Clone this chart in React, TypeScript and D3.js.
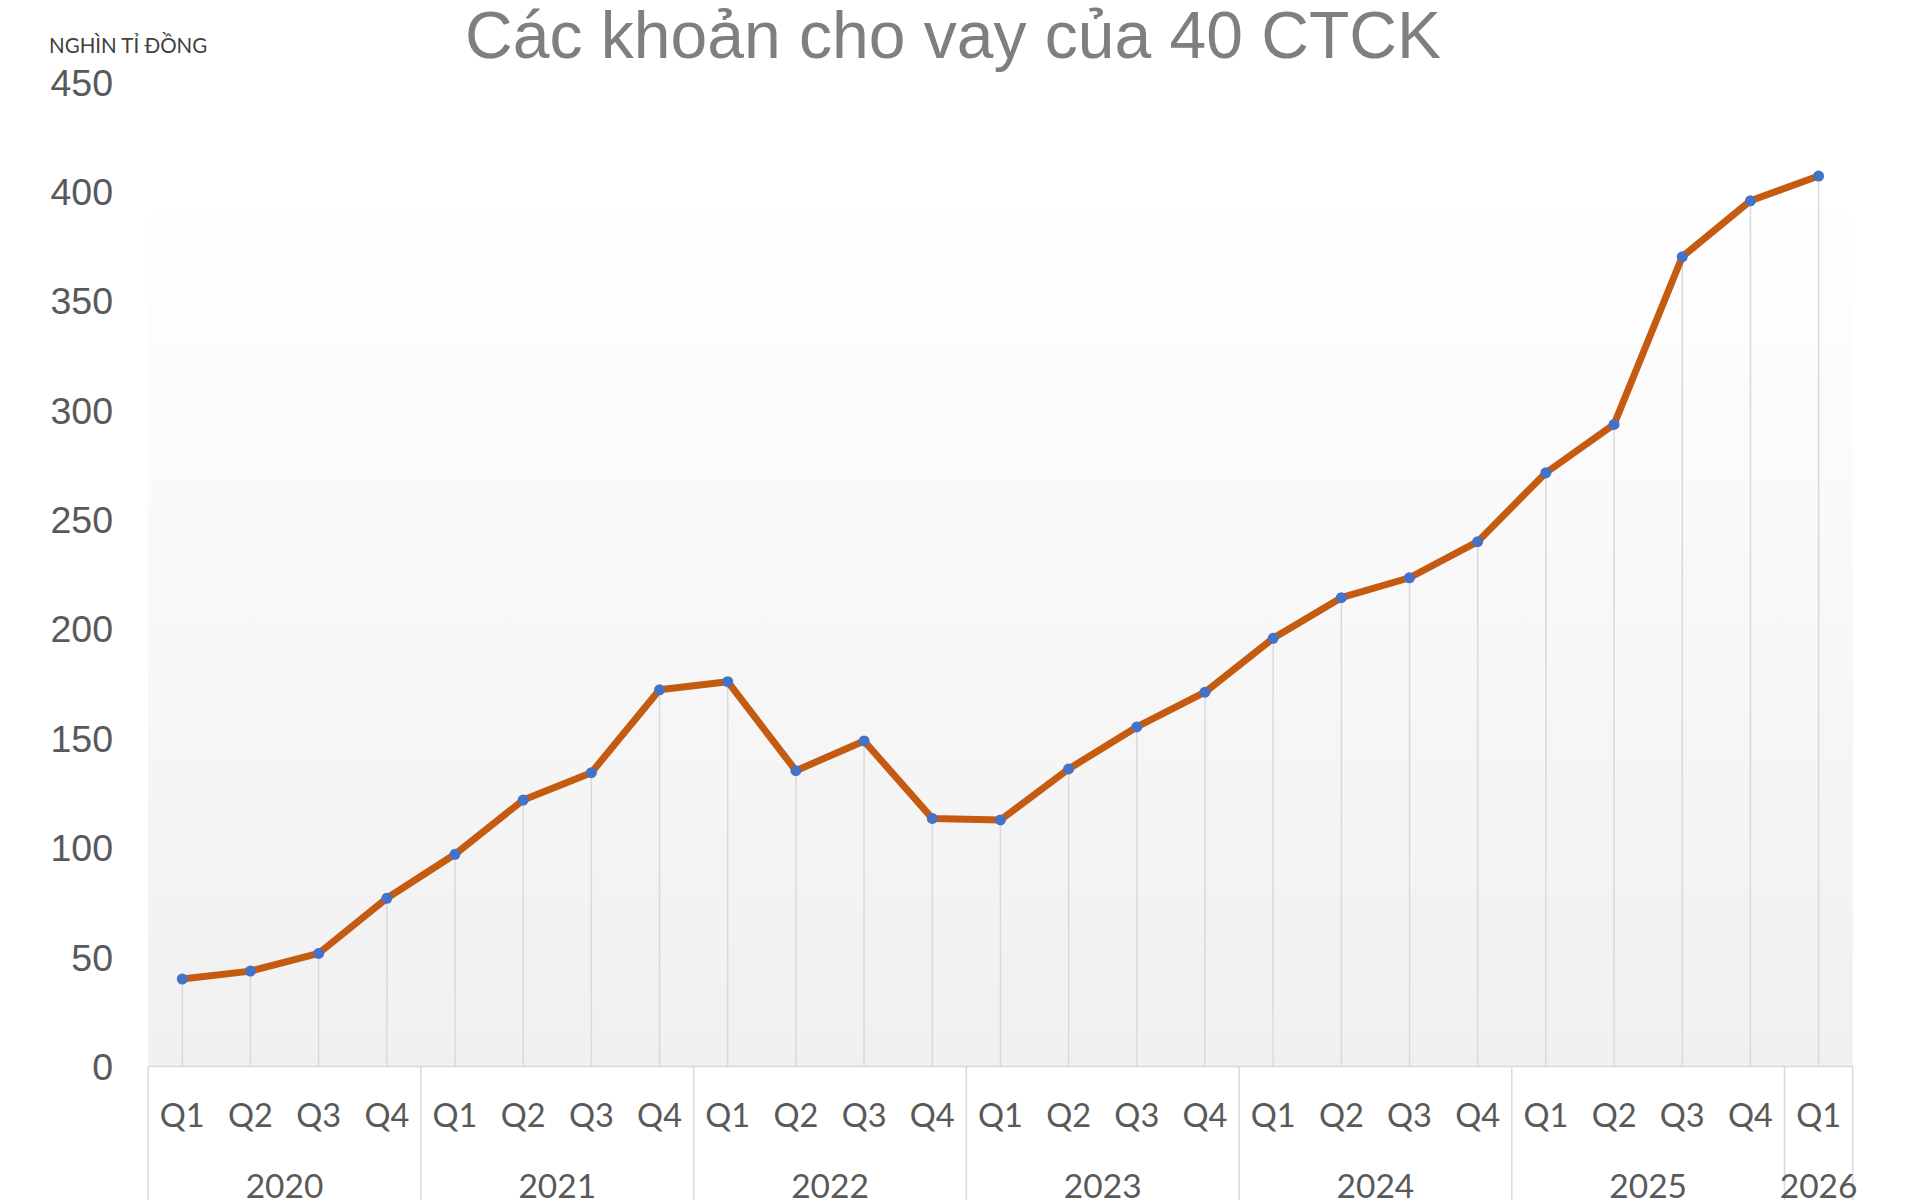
import * as d3 from 'd3';

const TITLE = 'Các khoản cho vay của 40 CTCK';
const UNIT = 'NGHÌN TỈ ĐỒNG';

const quarters = [
  'Q1', 'Q2', 'Q3', 'Q4',
  'Q1', 'Q2', 'Q3', 'Q4',
  'Q1', 'Q2', 'Q3', 'Q4',
  'Q1', 'Q2', 'Q3', 'Q4',
  'Q1', 'Q2', 'Q3', 'Q4',
  'Q1', 'Q2', 'Q3', 'Q4',
  'Q1',
];
const quarterYears = [
  '2020', '2020', '2020', '2020',
  '2021', '2021', '2021', '2021',
  '2022', '2022', '2022', '2022',
  '2023', '2023', '2023', '2023',
  '2024', '2024', '2024', '2024',
  '2025', '2025', '2025', '2025',
  '2026',
];
const years = ['2020', '2021', '2022', '2023', '2024', '2025', '2026'];
const loans = [
  40, 43.6, 51.7, 76.9,
  97, 121.8, 134.3, 172.2,
  175.9, 135.2, 148.8, 113.4,
  112.7, 136, 155.2, 171.1,
  195.7, 214.3, 223.4, 239.9,
  271.4, 293.5, 370.1, 395.7,
  407,
];
const yTicks = [0, 50, 100, 150, 200, 250, 300, 350, 400, 450];

const W = 1920;
const H = 1200;
const PLOT = { left: 148.2, right: 1852.7, top: 82, bottom: 1066.5 };
const BG_TOP = 196;

const LINE_COLOR = '#c55a11';
const MARKER_COLOR = '#4472c4';
const GRID_COLOR = '#d9d9d9';
const TEXT_COLOR = '#595959';

export default function App() {
  const keys = quarters.map((_, i) => String(i));
  const x = d3.scaleBand<string>().domain(keys).range([PLOT.left, PLOT.right]).padding(0);
  const y = d3.scaleLinear().domain([0, 450]).range([PLOT.bottom, PLOT.top]);
  const cx = (i: number) => (x(String(i)) ?? 0) + x.bandwidth() / 2;

  const line = d3
    .line<number>()
    .x((_, i) => cx(i))
    .y((d) => y(d));

  // year groups: first / last index of each year
  const groups = years.map((yr) => {
    const idx = quarterYears.map((q, i) => (q === yr ? i : -1)).filter((i) => i >= 0);
    const x0 = x(String(idx[0])) ?? 0;
    const x1 = (x(String(idx[idx.length - 1])) ?? 0) + x.bandwidth();
    return { yr, x0, x1 };
  });

  return (
    <svg
      width={W}
      height={H}
      style={{ position: 'fixed', top: 0, left: 0, background: '#ffffff' }}
    >
      <defs>
        <linearGradient id="plotBg" x1="0" y1="0" x2="0" y2="1">
          <stop offset="0%" stopColor="#ffffff" />
          <stop offset="100%" stopColor="#f0f0f0" />
        </linearGradient>
      </defs>

      <rect
        x={PLOT.left}
        y={BG_TOP}
        width={PLOT.right - PLOT.left}
        height={PLOT.bottom - BG_TOP}
        fill="url(#plotBg)"
      />

      <text
        x={953}
        y={57.5}
        textAnchor="middle"
        fontFamily="'Liberation Sans', Arial, sans-serif"
        fontSize={66}
        fill="#7f7f7f"
      >
        {TITLE}
      </text>

      <text x={49} y={53} fontFamily="Lato, 'Open Sans', sans-serif" fontSize={20.5} fill="#404040">
        {UNIT}
      </text>

      {yTicks.map((t) => (
        <text
          key={t}
          x={113}
          y={y(t)}
          dy="0.36em"
          textAnchor="end"
          fontFamily="'Liberation Sans', Arial, sans-serif"
          fontSize={37.5}
          fill={TEXT_COLOR}
        >
          {t}
        </text>
      ))}

      {/* drop lines */}
      {loans.map((v, i) => (
        <line
          key={`drop-${i}`}
          x1={cx(i)}
          x2={cx(i)}
          y1={y(v)}
          y2={PLOT.bottom}
          stroke={GRID_COLOR}
          strokeWidth={1.5}
        />
      ))}

      {/* category axis frame */}
      <line x1={PLOT.left} x2={PLOT.right} y1={PLOT.bottom} y2={PLOT.bottom} stroke={GRID_COLOR} strokeWidth={1.5} />
      {[PLOT.left, ...groups.map((g) => g.x1)].map((gx, i) => (
        <line key={`sep-${i}`} x1={gx} x2={gx} y1={PLOT.bottom} y2={H} stroke={GRID_COLOR} strokeWidth={1.5} />
      ))}

      {quarters.map((q, i) => (
        <text
          key={`q-${i}`}
          x={cx(i)}
          y={1127}
          textAnchor="middle"
          fontFamily="Lato, 'Open Sans', sans-serif"
          fontSize={32.5}
          fill={TEXT_COLOR}
        >
          {q}
        </text>
      ))}

      {groups.map((g) => (
        <text
          key={g.yr}
          x={(g.x0 + g.x1) / 2}
          y={1198}
          textAnchor="middle"
          fontFamily="Lato, 'Open Sans', sans-serif"
          fontSize={33.5}
          fill={TEXT_COLOR}
        >
          {g.yr}
        </text>
      ))}

      <path
        d={line(loans) ?? ''}
        fill="none"
        stroke={LINE_COLOR}
        strokeWidth={7}
        strokeLinejoin="round"
        strokeLinecap="round"
      />

      {loans.map((v, i) => (
        <circle key={`m-${i}`} cx={cx(i)} cy={y(v)} r={5.5} fill={MARKER_COLOR} />
      ))}
    </svg>
  );
}
